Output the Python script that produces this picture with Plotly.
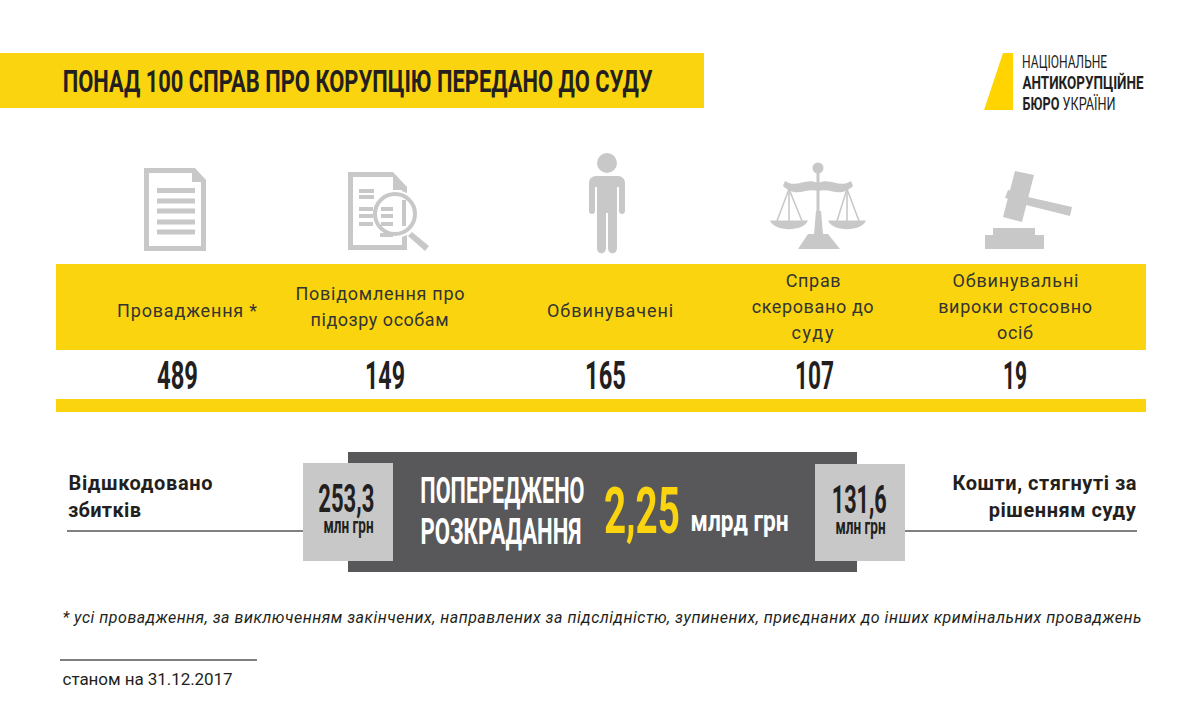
import json
import plotly.graph_objects as go

YELLOW = '#F9D40F'
GREY = '#C8C8C8'
DARK = '#58585A'
RULE = '#808080'
INK = '#231F20'
FONT = 'Roboto'

TITLE = 'ПОНАД 100 СПРАВ ПРО КОРУПЦІЮ ПЕРЕДАНО ДО СУДУ'
CASE_LABELS = ['Провадження *', 'Повідомлення про<br>підозру особам', 'Обвинувачені',
               'Справ<br>скеровано до<br>суду', 'Обвинувальні<br>вироки стосовно<br>осіб']
CASE_VALUES = [489, 149, 165, 107, 19]
RECOVERED_LEFT = ['253,3', 'млн грн']
RECOVERED_RIGHT = ['131,6', 'млн грн']
PREVENTED = ['ПОПЕРЕДЖЕНО', 'РОЗКРАДАННЯ']
PREVENTED_AMOUNT = ['2,25', 'млрд грн']
FOOTNOTE = ('* усі провадження, за виключенням закінчених, направлених за підслідністю, '
            'зупинених, приєднаних до інших кримінальних проваджень')
AS_OF = 'станом на 31.12.2017'

# layout of the label and value columns
LABEL_X = [187, 379.5, 610, 812.5, 1015]
VALUE_X = [177.5, 385, 605.5, 814.5, 1015]
LABEL_WIDTHS = [[140], [169, 138], [126], [55, 122, 42], [126, 154, 36]]
VALUE_WIDTHS = [41, 40, 41, 39, 24]

fig = go.Figure()
shapes = []
notes = []
fits = {}


def rect(x0, y0, x1, y1, color):
    shapes.append(dict(type='rect', x0=x0, y0=y0, x1=x1, y1=y1,
                       fillcolor=color, line_width=0, layer='above'))


def poly(path, color=GREY):
    shapes.append(dict(type='path', path=path, fillcolor=color, line_width=0, layer='above'))


def circle(cx, cy, r, color=GREY, line=None, width=0):
    shapes.append(dict(type='circle', x0=cx - r, y0=cy - r, x1=cx + r, y1=cy + r,
                       fillcolor=color, line_color=line, line_width=width, layer='above'))


def rule(x0, y0, x1, y1, color=RULE, width=2):
    shapes.append(dict(type='line', x0=x0, y0=y0, x1=x1, y1=y1,
                       line_color=color, line_width=width, layer='above'))


def text(cx, y, s, width, size, color=INK, bold=False, italic=False, squeeze=True):
    """Centred annotation; the page script then fits it to the given width."""
    plain = s.replace('<b>', '').replace('</b>', '')
    fits[plain] = [width, 'spacingAndGlyphs' if squeeze else 'spacing']
    if bold:
        s = '<b>%s</b>' % s
    if italic:
        s = '<i>%s</i>' % s
    notes.append(dict(x=cx, y=y, text=s, showarrow=False, xanchor='center', yanchor='middle',
                      font=dict(family=FONT, size=size, color=color)))


# Bands and boxes
rect(0, 53, 704, 108, YELLOW)
rect(56, 264, 1146, 350, YELLOW)
rect(56, 399, 1146, 412, YELLOW)
rect(348, 452, 857, 572, DARK)
rect(303, 463, 393, 561, GREY)
rect(815, 464, 905, 561, GREY)
rule(67, 531, 303, 531)
rule(905, 531, 1137, 531)
rule(60, 660, 257, 660, '#555555', 1.5)

# Logo
poly('M1003,53 L1013,53 L1013,110 L984,110 Z', '#FFD400')

# Document icon
poly('M144,168 L195,168 L206,180 L206,251 L144,251 Z '
     'M149,173 L149,246 L201,246 L201,182 L192,182 L192,173 Z')
for y in [190.5, 201, 211, 222, 232]:
    rect(157, y - 2.5, 195, y + 2.5, GREY)

# Document with magnifier icon
poly('M348,172 L393,172 L407,187 L407,250 L348,250 Z '
     'M353,177 L353,245 L402,245 L402,190 L393,190 L393,177 Z')
circle(395, 214, 24, 'white')
for x0, x1, y in [(359, 374, 191), (359, 374, 197), (359, 373, 209), (359, 373, 216),
                  (359, 373, 224), (381, 393, 209), (381, 393, 216), (381, 393, 224),
                  (380, 393, 235)]:
    rect(x0, y - 2, x1, y + 2, GREY)
rect(402, 200, 406, 226, GREY)
circle(395, 214, 20, 'rgba(0,0,0,0)', GREY, 4)
poly('M412,232 L429,246 L425,251 L408,236 Z')

# Person icon
circle(607, 163, 10)
poly('M596,176 L618,176 C622,176 625,179 625,183 L625,211 C625,215 619,215 619,211 '
     'L619,187 L617,187 L617,248 C617,255 608,255 608,248 L608,213 L606,213 L606,248 '
     'C606,255 597,255 597,248 L597,187 L595,187 L595,211 C595,215 589,215 589,211 '
     'L589,183 C589,179 592,176 596,176 Z')

# Scales icon
circle(818, 168, 5.5)
rect(816.5, 170, 819.5, 212, GREY)
poly('M814,234 L823,234 L821,211 L816,211 Z')
poly('M798,249 L840,249 L828,234 L808,234 Z')
poly('M785,181 C797,189 805,177 818,183 C831,177 839,189 851,181 L853,186 '
     'C839,199 831,187 818,191 C805,187 797,199 783,186 Z')
poly('M770,220.5 L808,220.5 C804,232 774,232 770,220.5 Z')
poly('M828,220.5 L866,220.5 C862,232 832,232 828,220.5 Z')
for x0, x1 in [(789, 777), (789, 789), (789, 802), (847, 837), (847, 847), (847, 859)]:
    rule(x0, 189, x1, 221, GREY, 1.6)

# Gavel icon
poly('M1015,171 L1034,175 L1022,222 L1003,217 Z')
poly('M1008,190 L1013,191 L1010,199 L1005,198 Z')
poly('M1028,197 L1072,207 L1070,216 L1026,205 Z')
rect(993, 228, 1035, 236, GREY)
rect(985, 235, 1044, 249, GREY)

# Header and logo text
text(357, 81, TITLE, 590, 32, bold=True)
text(1064.5, 61, 'НАЦІОНАЛЬНЕ', 85, 18)
text(1082.5, 82, 'АНТИКОРУПЦІЙНЕ', 121, 18, bold=True)
text(1068.5, 103, '<b>БЮРО</b> УКРАЇНИ', 93, 18)

# Column labels and values
LINE_GAP = 26
for x, label, widths in zip(LABEL_X, CASE_LABELS, LABEL_WIDTHS):
    lines = label.split('<br>')
    top = 310 if len(lines) == 1 else 306 - (len(lines) - 1) * LINE_GAP / 2
    for i, line in enumerate(lines):
        text(x, top + i * LINE_GAP, line, widths[i], 18, '#333333', squeeze=False)

fig.add_trace(go.Scatter(x=VALUE_X, y=[379] * len(VALUE_X), mode='text',
                         text=['<b>%d</b>' % v for v in CASE_VALUES], textposition='middle center',
                         textfont=dict(family=FONT, size=39, color=INK),
                         hoverinfo='skip', showlegend=False))
for v, w in zip(CASE_VALUES, VALUE_WIDTHS):
    fits[str(v)] = [w, 'spacingAndGlyphs']

# Lower block
text(140, 483, 'Відшкодовано', 144, 20, bold=True, squeeze=False)
text(104.5, 510, 'збитків', 73, 20, bold=True, squeeze=False)
text(1044, 483, 'Кошти, стягнуті за', 184, 20, bold=True, squeeze=False)
text(1062.5, 510, 'рішенням суду', 147, 20, bold=True, squeeze=False)

text(346, 499, RECOVERED_LEFT[0], 56, 38, bold=True)
text(348, 525, RECOVERED_LEFT[1], 50, 22, bold=True)
text(859.5, 500, RECOVERED_RIGHT[0], 55, 38, bold=True)
text(860, 526, RECOVERED_RIGHT[1], 50, 22, bold=True)

text(502, 491, PREVENTED[0], 164, 36, 'white', bold=True)
text(500.5, 532, PREVENTED[1], 161, 36, 'white', bold=True)
text(642, 511, PREVENTED_AMOUNT[0], 76, 64, YELLOW, bold=True)
text(739, 520, PREVENTED_AMOUNT[1], 98, 30, 'white', bold=True)

text(601.5, 617, FOOTNOTE, 1079, 16, italic=True, squeeze=False)
text(147, 679, AS_OF, 170, 17, squeeze=False)

fig.update_layout(width=1200, height=724, margin=dict(l=0, r=0, t=0, b=0),
                  paper_bgcolor='white', plot_bgcolor='white',
                  shapes=shapes, annotations=notes,
                  xaxis=dict(range=[0, 1200], visible=False, fixedrange=True),
                  yaxis=dict(range=[724, 0], visible=False, fixedrange=True))

# The original lettering is a condensed face with wide tracking, so fit each text to its width
FIT_SCRIPT = """
document.body.style.margin = '0';
var fits = %s;
document.querySelectorAll('.annotation-text, .textpoint text').forEach(function (el) {
    var fit = fits[el.textContent];
    if (fit) {
        el.setAttribute('textLength', fit[0]);
        el.setAttribute('lengthAdjust', fit[1]);
        var bg = el.parentNode.querySelector('rect.bg');
        if (bg) {
            var w = parseFloat(bg.getAttribute('width'));
            var x = parseFloat(bg.getAttribute('x')) || 0;
            bg.setAttribute('x', x + (w - fit[0]) / 2);
            bg.setAttribute('width', fit[0]);
        }
    }
});
""" % json.dumps(fits, ensure_ascii=False)

fig.write_html('out.html', config={'displayModeBar': False}, post_script=FIT_SCRIPT)
